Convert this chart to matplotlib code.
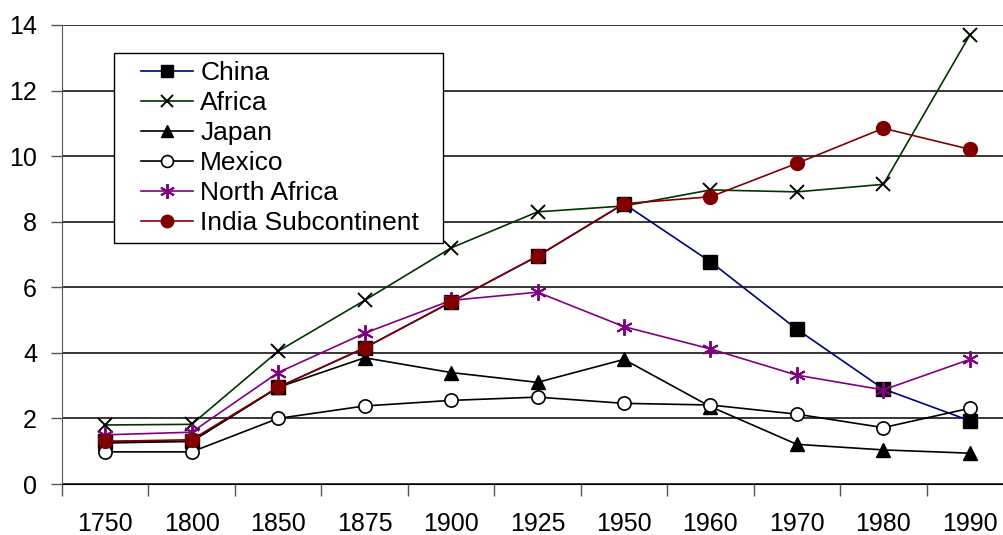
import matplotlib
matplotlib.use("Agg")
import matplotlib.pyplot as plt
from matplotlib.legend_handler import HandlerLine2D
import numpy as np

plt.rcParams['font.family'] = ['Liberation Sans', 'DejaVu Sans']

years = ["1750", "1800", "1850", "1875", "1900", "1925", "1950", "1960", "1970", "1980", "1990"]

china = [1.30, 1.30, 2.95, 4.15, 5.55, 6.95, 8.55, 6.78, 4.72, 2.90, 1.93]
africa = [1.80, 1.82, 4.05, 5.60, 7.20, 8.30, 8.48, 8.97, 8.91, 9.14, 13.69]
japan = [1.25, 1.30, 2.95, 3.85, 3.40, 3.10, 3.80, 2.36, 1.21, 1.04, 0.94]
mexico = [0.98, 0.98, 2.00, 2.38, 2.55, 2.65, 2.46, 2.41, 2.13, 1.72, 2.31]
north_africa = [1.50, 1.58, 3.40, 4.60, 5.60, 5.85, 4.80, 4.12, 3.32, 2.87, 3.80]
india = [1.30, 1.35, 2.95, 4.15, 5.55, 6.95, 8.55, 8.76, 9.78, 10.85, 10.21]

fig = plt.figure(figsize=(10.04, 5.35), dpi=100)
ax = fig.add_axes([62 / 1004, 51 / 535, 951 / 1004, 459 / 535])

x = np.arange(len(years))
lw = 1.2
ax.plot(x, china, color="#000080", lw=lw, marker="s", ms=10,
        mfc="black", mec="black", label="China")
ax.plot(x, africa, color="#003300", lw=lw, marker="x", ms=10, mew=1.4,
        mec="black", label="Africa")
ax.plot(x, japan, color="black", lw=lw, marker="^", ms=10,
        mfc="black", mec="black", label="Japan")
ax.plot(x, mexico, color="black", lw=lw, marker="o", ms=9.5,
        mfc="white", mec="black", mew=1.2, label="Mexico")
ax.plot(x, north_africa, color="#800080", lw=lw, marker=(6, 2, 0), ms=12,
        mec="#800080", mew=1.4, label="North Africa")
ax.plot(x, india, color="#800000", lw=lw, marker="o", ms=10,
        mfc="#800000", mec="#800000", label="India Subcontinent")

ax.set_xlim(-0.5, len(years) - 0.5)
ax.set_ylim(0, 14)
ax.set_yticks(np.arange(0, 15, 2))
ax.yaxis.grid(True, color="black", lw=1.1)
ax.set_axisbelow(True)

ax.set_xticks(x)
ax.set_xticklabels(years)
ax.set_xticks(np.arange(-0.5, len(years), 1), minor=True)
ax.tick_params(axis="x", which="major", length=0, pad=20, labelsize=18)
ax.tick_params(axis="x", which="minor", length=8.5, width=1, color="#555555")
ax.tick_params(axis="y", length=8, width=1, color="#555555", pad=10, labelsize=18)

for side in ("top", "right"):
    ax.spines[side].set_visible(False)
ax.spines["left"].set_color("#555555")
ax.spines["bottom"].set_color("black")

# legend frame spans a fixed box; handles are inset from the left edge
leg_box = (114 / 1004, 1 - 244 / 535, (443 - 114) / 1004, (244 - 53) / 535)
handler = HandlerLine2D(xpad=0.72)
leg = ax.legend(loc="upper left", bbox_to_anchor=leg_box, mode="expand",
                bbox_transform=fig.transFigure, borderaxespad=0,
                fontsize=19, frameon=True, fancybox=False, framealpha=1,
                edgecolor="black", handlelength=2.7, handletextpad=0.27,
                labelspacing=0.23, borderpad=0.3, markerscale=0.9,
                handler_map={matplotlib.lines.Line2D: handler})
leg.get_frame().set_linewidth(1.0)

fig.savefig("out.png", dpi=100)
